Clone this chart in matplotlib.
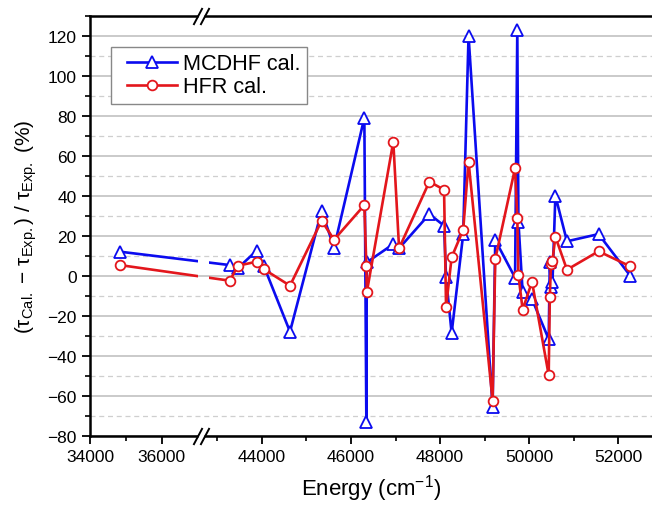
import numpy as np
import matplotlib
matplotlib.use('Agg')
import matplotlib.pyplot as plt
from matplotlib.patches import Rectangle
from matplotlib.path import Path
from matplotlib.lines import Line2D
from matplotlib.legend_handler import HandlerLine2D

plt.rcParams['font.family'] = ['Liberation Sans', 'DejaVu Sans']

# energies (cm-1) and relative lifetime differences (%)
energy = [34840, 43280, 43460, 43880, 44040, 44630, 45340, 45620, 46300, 46345,
          46355, 46950, 47080, 47760, 48090, 48135, 48260, 48520, 48640, 49180,
          49240, 49685, 49735, 49760, 49855, 50065, 50440, 50465, 50490, 50525,
          50590, 50850, 51560, 52270]
mcdhf = [12, 5.3, 3.8, 12.5, 5, -28, 32.5, 14, 79, -73.3,
         6.7, 15.8, 13.7, 30.8, 25, -0.8, -28.7, 20.8, 120, -65.8,
         17.8, -1, 123, 27, -8.3, -11.7, -31.7, 6.7, -5.8, -3.3,
         40, 17.2, 20.8, 0]
hfr = [5.3, -2.5, 5, 7, 3.3, -5, 27.5, 18, 35.3, 5,
       -8.3, 67, 13.7, 47, 43, -15.8, 9.2, 23, 57, -62.5,
       8.3, 53.8, 28.7, 0.3, -17, -3, -49.7, -10.8, 5.8, 7.5,
       19.5, 3, 12.2, 4.7]

major_x = [34000, 36000, 44000, 46000, 48000, 50000, 52000]
minor_x = [35000, 43000, 45000, 47000, 49000, 51000]

# broken x axis: 34000-37150 | 42680-...
x0 = 34000
b1, b2 = 37150, 42680
r = 0.805
eps = 0.001


def fwd(x):
    x = np.asarray(x, dtype=float)
    u1 = (b1 - x0) * r
    return np.where(x < b1, (x - x0) * r,
                    np.where(x < b2, u1 + (x - b1) * eps, u1 + (b2 - b1) * eps + (x - b2)))


def inv(u):
    u = np.asarray(u, dtype=float)
    u1 = (b1 - x0) * r
    u2 = u1 + (b2 - b1) * eps
    return np.where(u < u1, x0 + u / r,
                    np.where(u < u2, b1 + (u - u1) / eps, b2 + (u - u2)))


fig = plt.figure(figsize=(6.52, 5.06), dpi=100)
ax = fig.add_axes([90 / 652, 1 - 436.7 / 506, (652 - 90) / 652, 420 / 506])
ax.set_xscale('function', functions=(fwd, inv))
ax.set_xlim(34000, 52760)
ax.set_ylim(-80, 130)

blue = '#0b0bef'
red = '#e3161c'

# each series drawn twice, clipped on either side of the break
clips = [(30000, 37000 - 30000), (42820, 20000)]
for k, (cx, cw) in enumerate(clips):
    for vals, col, mk, ms, lab in [(mcdhf, blue, '^', 8.5, 'MCDHF cal.'),
                                   (hfr, red, 'o', 7, 'HFR cal.')]:
        ln, = ax.plot(energy, vals, color=col, lw=1.9, marker=mk, ms=ms,
                      mfc='white', mec=col, mew=1.3,
                      label=lab if k == 1 else None)
        ln.set_clip_path(Rectangle((cx, -1), cw, 3, transform=ax.get_xaxis_transform()))

ax.set_xticks(major_x, labels=[str(v) for v in major_x])
ax.set_xticks(minor_x, minor=True)
ax.set_yticks(np.arange(-80, 121, 20))
ax.set_yticks(np.arange(-70, 131, 10), minor=True)

ax.grid(True, axis='y', which='major', color='#bcbcbc', lw=1.1)
ax.grid(True, axis='y', which='minor', color='#cfcfcf', lw=0.9, ls=(0, (4, 3)))
ax.set_axisbelow(True)

ax.tick_params(which='major', direction='out', length=6, width=1.3, labelsize=12.5)
ax.tick_params(which='minor', direction='out', length=3.5, width=1.2)
for s in ['left', 'bottom', 'top']:
    ax.spines[s].set_linewidth(1.8)
ax.spines['right'].set_visible(False)

# axis break marks
gap_path = Path([(-5, 0), (1, 0)], [Path.MOVETO, Path.LINETO])
slash_path = Path([(-10, -8.5), (-1, 8.5), (-3, -8.5), (6, 8.5)],
                  [Path.MOVETO, Path.LINETO, Path.MOVETO, Path.LINETO])
for yy in [0, 1]:
    ax.plot([b1], [yy], transform=ax.get_xaxis_transform(), clip_on=False,
            marker=gap_path, ms=10 * 0.72, mec='white', mew=3.5, zorder=5)
    ax.plot([b1], [yy], transform=ax.get_xaxis_transform(), clip_on=False,
            marker=slash_path, ms=20 * 0.72, mec='black', mew=1.4, zorder=6)

ax.set_xlabel('Energy (cm$^{\\mathregular{-1}}$)', fontsize=16, labelpad=6)
ax.set_ylabel('(τ$_{\\mathregular{Cal.}}$ − τ$_{\\mathregular{Exp.}}$) / τ$_{\\mathregular{Exp.}}$ (%)',
              fontsize=15, labelpad=6)

leg = ax.legend(loc='upper left', bbox_to_anchor=(0.037, 0.926), borderaxespad=0,
                fontsize=15.6, handlelength=2.75, fancybox=False, framealpha=1,
                edgecolor='#888888', borderpad=0.3, labelspacing=0.1,
                handletextpad=0.3,
                handler_map={Line2D: HandlerLine2D(xpad=0.45)})
leg.get_frame().set_linewidth(1.0)

fig.savefig('out.png', dpi=100)
